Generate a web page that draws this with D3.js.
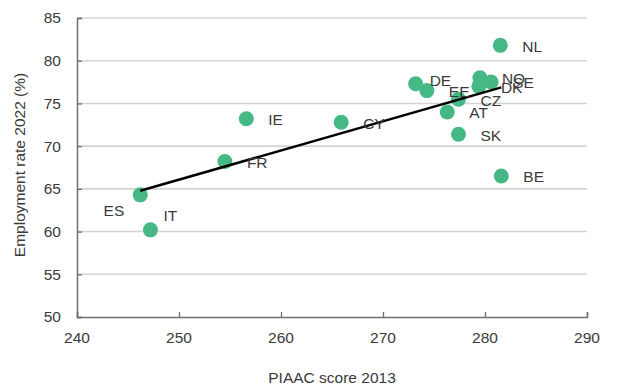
<!DOCTYPE html>
<html>
<head>
<meta charset="utf-8">
<script src="https://cdn.jsdelivr.net/npm/d3@7"></script>
<style>
  html, body { margin: 0; padding: 0; background: #fff; }
  svg { display: block; }
  text { font-family: "Liberation Sans", Arial, Helvetica, sans-serif; fill: #3a3a3a; }
</style>
</head>
<body>
<svg id="chart" width="623" height="385"></svg>
<script>
// Data
const countries = ["ES", "IT", "FR", "IE", "CY", "DE", "EE", "AT", "CZ", "SK", "NO", "DK", "SE", "NL", "BE"];
const piaacScore = [246.2, 247.2, 254.5, 256.6, 265.9, 273.2, 274.3, 276.3, 277.4, 277.4, 279.5, 279.4, 280.6, 281.5, 281.6];
const employmentRate = [64.3, 60.2, 68.2, 73.2, 72.8, 77.3, 76.5, 74.0, 75.5, 71.4, 78.0, 77.0, 77.5, 81.8, 66.5];
const xTicks = [240, 250, 260, 270, 280, 290];
const yTicks = [50, 55, 60, 65, 70, 75, 80, 85];
const xTitle = "PIAAC score 2013";
const yTitle = "Employment rate 2022 (%)";

(function () {
const svg = d3.select("#chart");
const mLeft = 77, mRight = 587, mTop = 18, mBottom = 317;
const fs = 15.5;

const x = d3.scaleLinear().domain([240, 290]).range([mLeft, mRight]);
const y = d3.scaleLinear().domain([50, 85]).range([mBottom, mTop]);

// gridlines
svg.append("g")
  .selectAll("line").data(yTicks.filter(d => d > 50)).join("line")
  .attr("x1", mLeft).attr("x2", mRight)
  .attr("y1", d => y(d)).attr("y2", d => y(d))
  .attr("stroke", "#d4d4d4").attr("stroke-width", 1.6);

// y axis
const yAxis = svg.append("g").attr("transform", `translate(${mLeft},0)`)
  .call(d3.axisRight(y).tickValues(yTicks).tickSize(5).tickFormat(""));
yAxis.select(".domain").attr("stroke", "#6f6f6f").attr("stroke-width", 1.5);
yAxis.selectAll(".tick line").attr("stroke", "#6f6f6f").attr("stroke-width", 1.3);
svg.append("g").selectAll("text").data(yTicks).join("text")
  .attr("x", mLeft - 16).attr("y", d => y(d)).attr("dy", "0.35em")
  .attr("text-anchor", "end").attr("font-size", fs).text(d => d);

// x axis
const xAxis = svg.append("g").attr("transform", `translate(0,${mBottom})`)
  .call(d3.axisTop(x).tickValues(xTicks).tickSize(5).tickFormat(""));
xAxis.select(".domain").attr("stroke", "#6f6f6f").attr("stroke-width", 1.5);
xAxis.selectAll(".tick line").attr("stroke", "#6f6f6f").attr("stroke-width", 1.3);
svg.append("g").selectAll("text").data(xTicks).join("text")
  .attr("x", d => x(d)).attr("y", 338).attr("dy", "0.35em")
  .attr("text-anchor", "middle").attr("font-size", fs).text(d => d);

// axis titles
svg.append("text").attr("x", 332).attr("y", 378).attr("dy", "0.35em")
  .attr("text-anchor", "middle").attr("font-size", 15.5).text(xTitle);
svg.append("text").attr("transform", `translate(20,165) rotate(-90)`)
  .attr("dy", "0.35em").attr("text-anchor", "middle").attr("font-size", 15.5).text(yTitle);

// points
const pts = countries.map((c, i) => ({ c, xv: piaacScore[i], yv: employmentRate[i] }));
svg.append("g").selectAll("circle").data(pts).join("circle")
  .attr("cx", d => x(d.xv)).attr("cy", d => y(d.yv)).attr("r", 7.5)
  .attr("fill", "#45b886");

// regression line (OLS over data range)
const mx = d3.mean(piaacScore), my = d3.mean(employmentRate);
const slope = d3.sum(pts, d => (d.xv - mx) * (d.yv - my)) / d3.sum(pts, d => (d.xv - mx) ** 2);
const [xmin, xmax] = d3.extent(piaacScore);
const fit = v => my + slope * (v - mx);
svg.append("line")
  .attr("x1", x(xmin)).attr("y1", y(fit(xmin)))
  .attr("x2", x(xmax)).attr("y2", y(fit(xmax)))
  .attr("stroke", "#000").attr("stroke-width", 2.5);

// labels
const labelOffset = { ES: [-16, 16, "end"], IT: [13, -14, "start"], DE: [14, -3, "start"] };
svg.append("g").selectAll("text").data(pts).join("text")
  .attr("x", d => x(d.xv) + (labelOffset[d.c] ? labelOffset[d.c][0] : 22))
  .attr("y", d => y(d.yv) + (labelOffset[d.c] ? labelOffset[d.c][1] : 1))
  .attr("dy", "0.35em")
  .attr("text-anchor", d => labelOffset[d.c] ? labelOffset[d.c][2] : "start")
  .attr("font-size", fs)
  .text(d => d.c);
})();
</script>
</body>
</html>
